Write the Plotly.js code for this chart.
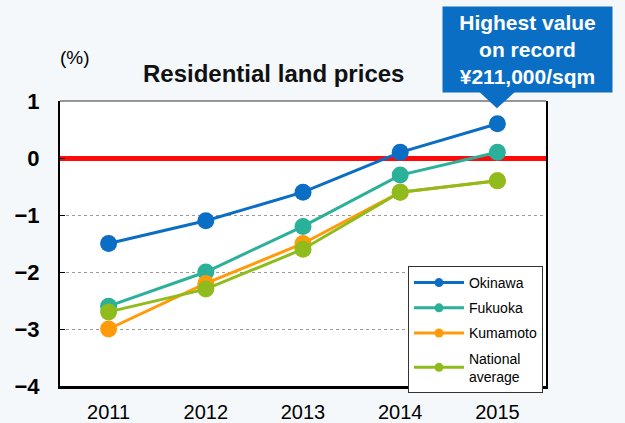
<!DOCTYPE html>
<html>
<head>
<meta charset="utf-8">
<script src="https://cdn.plot.ly/plotly-3.0.1.min.js"></script>
<style>
html,body{margin:0;padding:0;background:#f4f8fb;}
#chart{width:625px;height:423px;}
</style>
</head>
<body>
<div id="chart"></div>
<script>
const years = [2011, 2012, 2013, 2014, 2015];
const okinawa = [-1.5, -1.1, -0.6, 0.1, 0.6];
const fukuoka = [-2.6, -2.0, -1.2, -0.3, 0.1];
const kumamoto = [-3.0, -2.2, -1.5, -0.6, -0.4];
const national = [-2.7, -2.3, -1.6, -0.6, -0.4];
const seriesNames = ['Okinawa', 'Fukuoka', 'Kumamoto', 'National<br>average'];
const seriesColors = ['#0a6ec4', '#2bb09a', '#ff9a0a', '#8fbc1c'];
const yTicks = [1, 0, -1, -2, -3, -4];
const yTickText = ['1', '0', '\u22121', '\u22122', '\u22123', '\u22124'];

const seriesData = [okinawa, fukuoka, kumamoto, national];
const traces = seriesData.map((vals, i) => ({
  type: 'scatter',
  mode: 'lines+markers',
  x: years,
  y: vals,
  name: seriesNames[i],
  showlegend: false,
  line: {color: seriesColors[i], width: 3},
  marker: {color: seriesColors[i], size: 17}
}));
// legend-only entries with small markers (no data drawn)
const legendTraces = seriesNames.map((n, i) => ({
  type: 'scatter',
  mode: 'lines+markers',
  x: [null], y: [null],
  name: n,
  legendgroup: 'g' + i,
  line: {color: seriesColors[i], width: 3},
  marker: {color: seriesColors[i], size: 9}
}));

const layout = {
  width: 625, height: 423,
  margin: {l: 60, r: 79, t: 101, b: 37},
  paper_bgcolor: '#f4f8fb',
  plot_bgcolor: '#ffffff',
  font: {family: 'Liberation Sans, Arial, sans-serif', color: '#000'},
  showlegend: true,
  legend: {
    x: 0.716, y: 0.421, xanchor: 'left', yanchor: 'top',
    bgcolor: '#ffffff', bordercolor: '#333', borderwidth: 1,
    font: {size: 14, color: '#000'},
    itemwidth: 50, tracegroupgap: 4
  },
  xaxis: {
    range: [2010.5, 2015.5],
    tickvals: years,
    ticktext: years.map(String),
    tickfont: {size: 20, color: '#000'},
    showgrid: false, zeroline: false,
    showline: true, linecolor: '#000', linewidth: 3, mirror: false,
    ticks: '', ticklabelstandoff: 6
  },
  yaxis: {
    range: [-4, 1],
    tickvals: yTicks,
    ticktext: yTickText,
    tickfont: {size: 22, color: '#000', weight: 'bold'},
    showgrid: true, gridcolor: '#9a9a9a', griddash: 'dot', gridwidth: 1,
    zeroline: true, zerolinecolor: '#ff0a0a', zerolinewidth: 5,
    showline: true, linecolor: '#000', linewidth: 2, mirror: true,
    ticks: 'inside', ticklen: 5, tickcolor: '#000',
    ticklabelstandoff: 14
  },
  shapes: [
    {type: 'line', xref: 'paper', yref: 'paper', x0: 0, x1: 1, y0: 1, y1: 1,
     line: {color: '#333', width: 1}},
    {type: 'path', xref: 'paper', yref: 'paper',
     path: 'M 0.862 1.033 L 0.937 1.033 L 0.899 0.975 Z',
     fillcolor: '#0a6ec4', line: {width: 0}}
  ],
  annotations: [
    {text: '(%)', xref: 'paper', yref: 'paper', x: 0.03, y: 1.154,
     xanchor: 'center', yanchor: 'middle', showarrow: false,
     font: {size: 19, color: '#000'}},
    {text: '<b>Residential land prices</b>', xref: 'paper', yref: 'paper',
     x: 0.44, y: 1.098, xanchor: 'center', yanchor: 'middle', showarrow: false,
     font: {size: 24, color: '#111'}},
    {text: '<b>Highest value<br>on record<br>¥211,000/sqm</b>', xref: 'paper', yref: 'paper',
     x: 0.962, y: 1.181, xanchor: 'center', yanchor: 'middle', showarrow: false,
     bgcolor: '#0a6ec4', borderpad: 0, width: 169, height: 85, align: 'center',
     font: {size: 21, color: '#ffffff'}}
  ]
};

Plotly.newPlot('chart', traces.concat(legendTraces), layout, {displayModeBar: false, staticPlot: true});
</script>
</body>
</html>
